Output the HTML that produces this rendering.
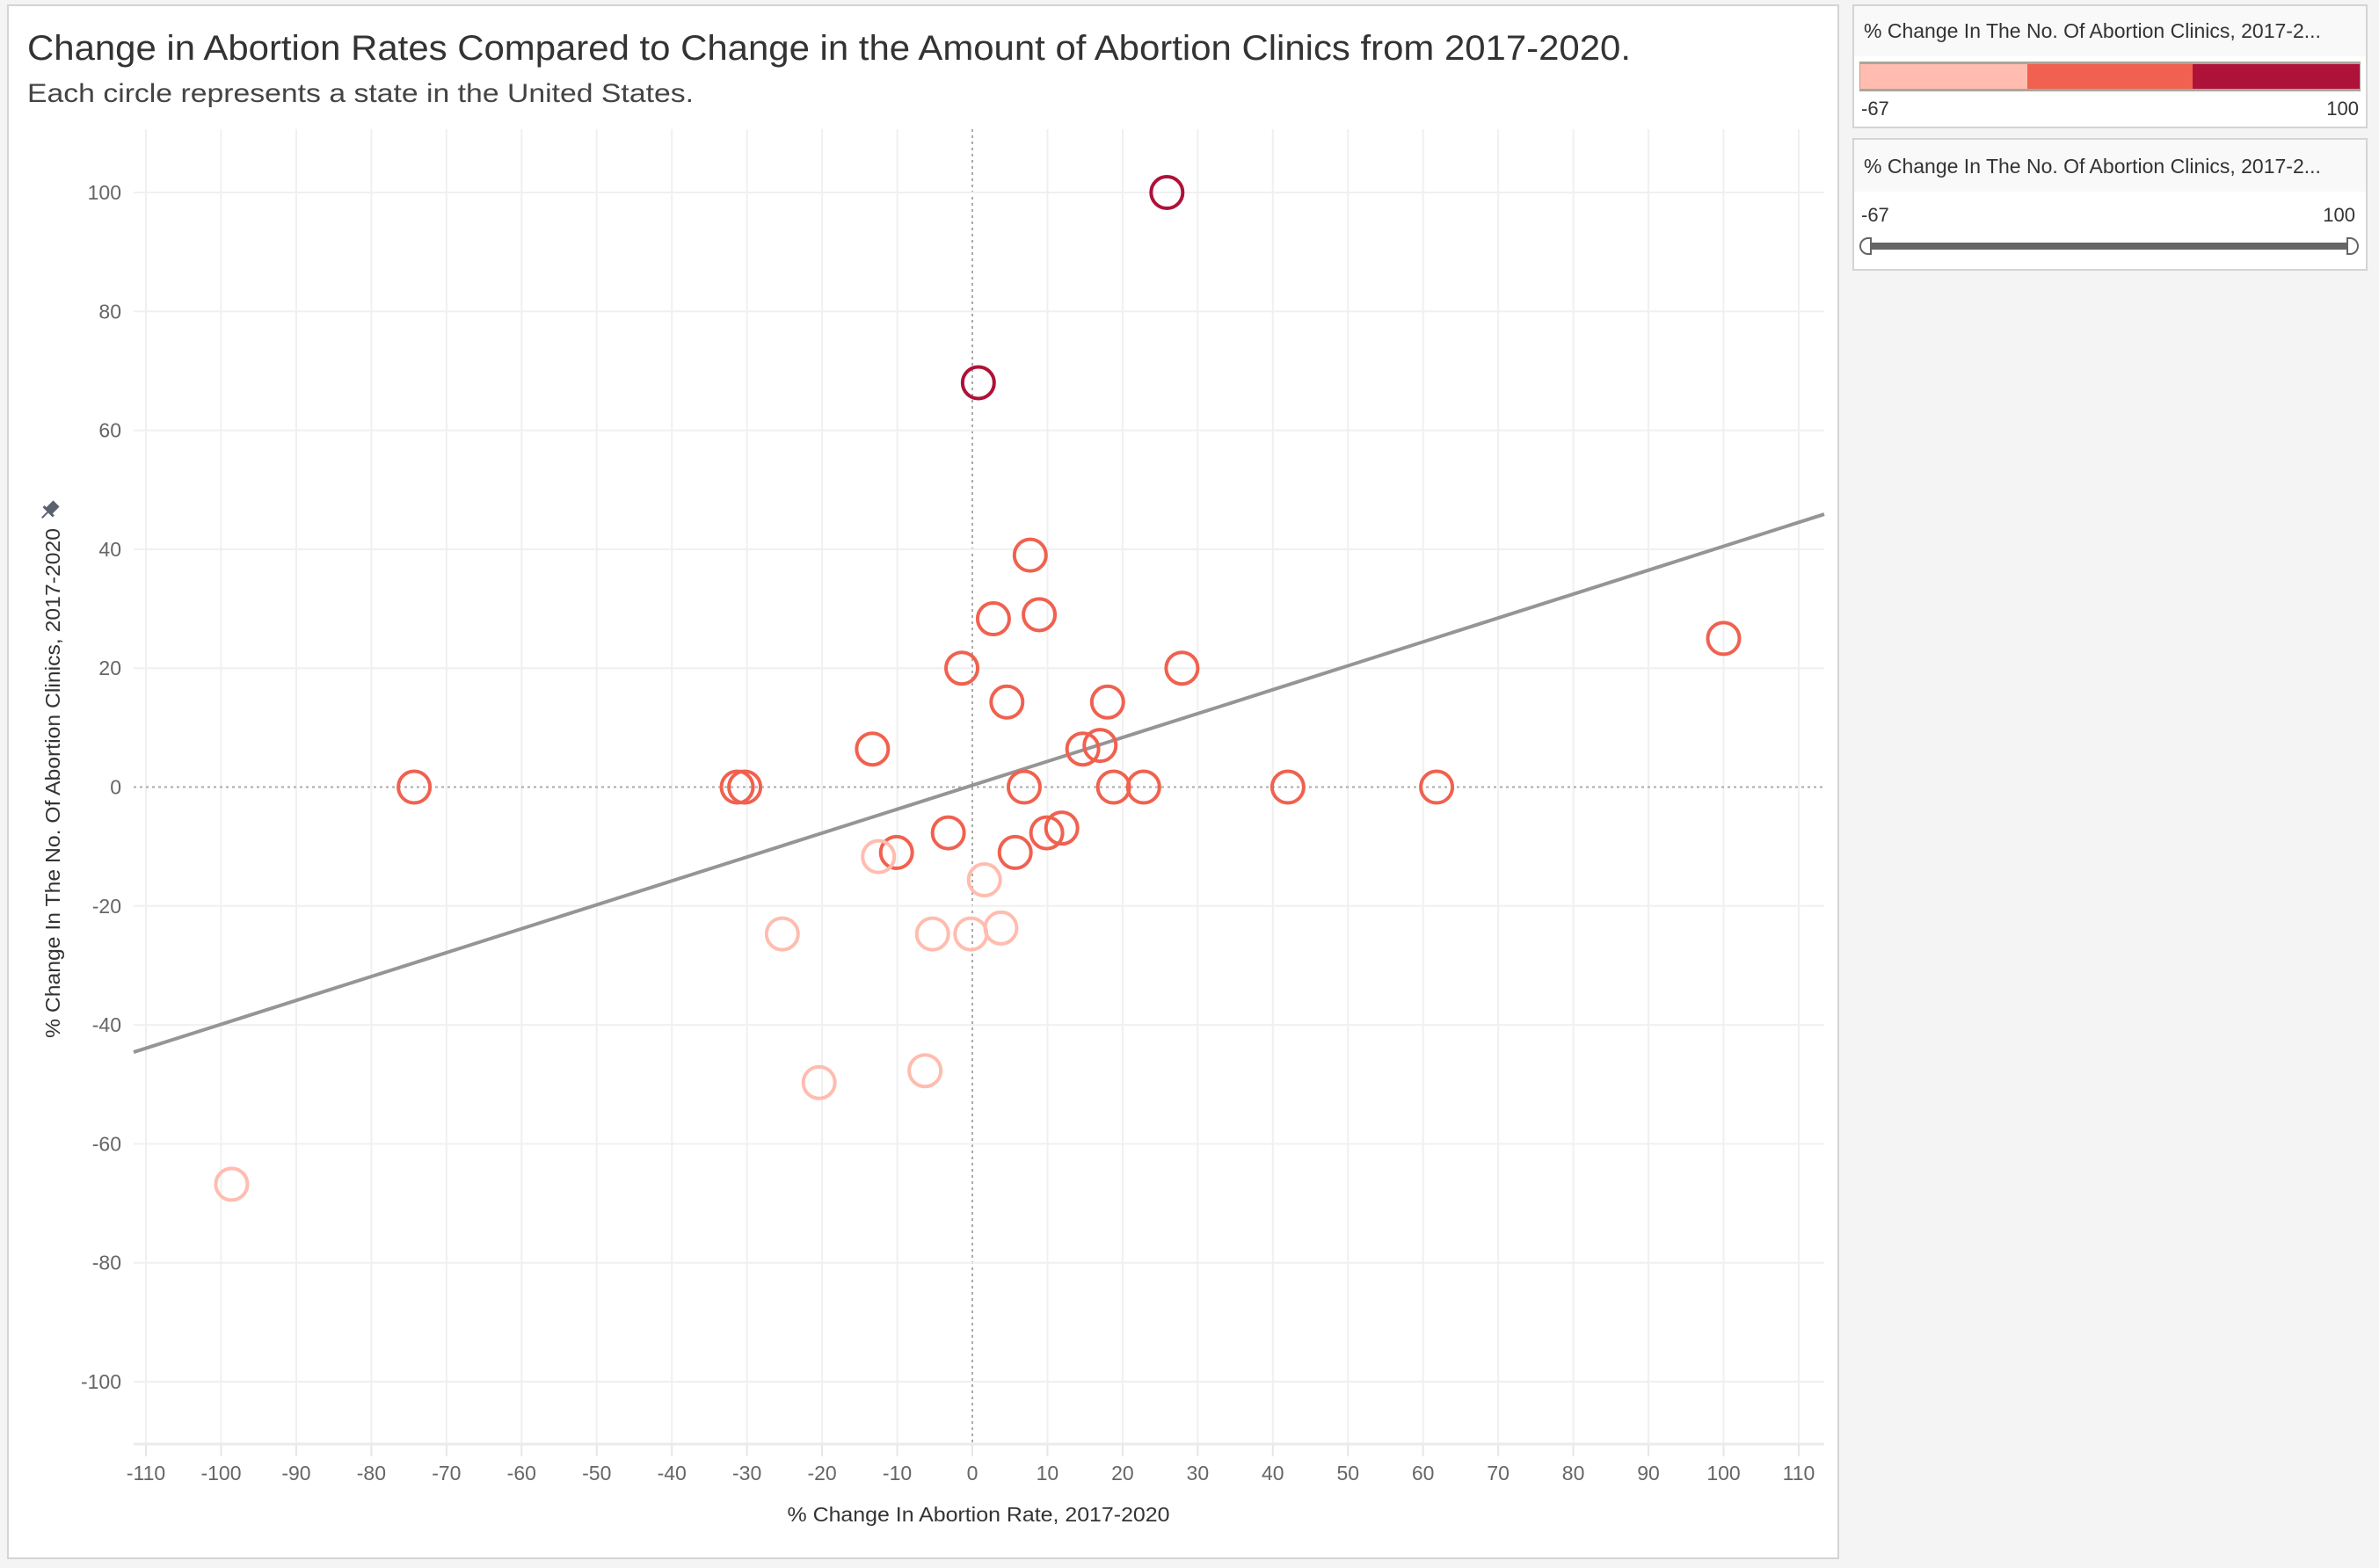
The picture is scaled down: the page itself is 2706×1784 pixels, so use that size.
<!DOCTYPE html>
<html><head><meta charset="utf-8">
<style>
html,body{margin:0;padding:0;background:#f4f4f4;width:2706px;height:1784px;overflow:hidden;font-family:"Liberation Sans",sans-serif;}
svg{display:block}
</style></head>
<body>
<svg id="chart" width="2706" height="1784" xmlns="http://www.w3.org/2000/svg">
  <rect x="9" y="6" width="2082" height="1767" fill="#fff" stroke="#d4d4d4" stroke-width="2"/>
  <text x="31" y="68" font-size="40" fill="#333" textLength="1824" lengthAdjust="spacingAndGlyphs">Change in Abortion Rates Compared to Change in the Amount of Abortion Clinics from 2017-2020.</text>
  <text x="31" y="116" font-size="30" fill="#444" textLength="758" lengthAdjust="spacingAndGlyphs">Each circle represents a state in the United States.</text>
  <g id="grid"></g>
  <g id="axes"></g>
  <g id="trend"></g>
  <g id="points"></g>
  <text x="0" y="0" transform="translate(68,891) rotate(-90)" text-anchor="middle" font-size="23" fill="#333" textLength="580" lengthAdjust="spacingAndGlyphs">% Change In The No. Of Abortion Clinics, 2017-2020</text>
  <g transform="translate(57,580) rotate(45)" fill="#5a6270">
    <rect x="-5" y="-10" width="10" height="12"/>
    <rect x="-8" y="1" width="16" height="3"/>
    <rect x="-1" y="4" width="2" height="9"/>
  </g>
  <text x="1113" y="1731" text-anchor="middle" font-size="23" fill="#333" textLength="435" lengthAdjust="spacingAndGlyphs">% Change In Abortion Rate, 2017-2020</text>

  <g>
    <rect x="2108" y="6" width="584" height="139" fill="#fff" stroke="#d4d4d4" stroke-width="2"/>
    <rect x="2109" y="7" width="582" height="57" fill="#f9f9f9"/>
    <text x="2120" y="43" font-size="23" fill="#333">% Change In The No. Of Abortion Clinics, 2017-2...</text>
    <rect x="2115" y="70" width="570" height="34" fill="#aaa69c"/>
    <rect x="2116" y="73" width="190" height="28" fill="#ffbcaf"/>
    <rect x="2306" y="73" width="188" height="28" fill="#f0614f"/>
    <rect x="2494" y="73" width="190" height="28" fill="#ae1238"/>
    <text x="2117" y="131" font-size="22" fill="#333">-67</text>
    <text x="2683" y="131" text-anchor="end" font-size="22" fill="#333">100</text>
  </g>
  <g>
    <rect x="2108" y="158" width="584" height="149" fill="#fff" stroke="#d4d4d4" stroke-width="2"/>
    <rect x="2109" y="159" width="582" height="59" fill="#f9f9f9"/>
    <text x="2120" y="197" font-size="23" fill="#333">% Change In The No. Of Abortion Clinics, 2017-2...</text>
    <text x="2117" y="252" font-size="22" fill="#333">-67</text>
    <text x="2679" y="252" text-anchor="end" font-size="22" fill="#333">100</text>
    <rect x="2124" y="276" width="550" height="8" fill="#666"/>
    <path d="M2128 271 h-3 a9 9 0 0 0 0 18 h3 z" fill="#fff" stroke="#666" stroke-width="2"/>
    <path d="M2670 271 h3 a9 9 0 0 1 0 18 h-3 z" fill="#fff" stroke="#666" stroke-width="2"/>
  </g>
</svg>
<script>
const xValues = [25.9,0.8,7.7,2.8,8.9,-1.4,27.9,100,4.6,18,-13.3,14.7,17,-74.3,-31.3,-30.3,6.9,18.8,22.8,42,61.8,-3.2,9.9,11.9,-10.1,5.7,-12.5,1.6,-25.3,-5.3,-0.2,3.8,-20.4,-6.3,-98.6];
const yValues = [100,68,39,28.3,29,20,20,25,14.3,14.3,6.4,6.4,7,0,0,0,0,0,0,0,0,-7.7,-7.7,-6.9,-11,-11,-11.7,-15.6,-24.7,-24.7,-24.7,-23.7,-49.7,-47.7,-66.8];
const xTicks = [-110,-100,-90,-80,-70,-60,-50,-40,-30,-20,-10,0,10,20,30,40,50,60,70,80,90,100,110];
const yTicks = [-100,-80,-60,-40,-20,0,20,40,60,80,100];
const trendSlope = 0.402;
const trendIntercept = 0.3;
const colorBreaks = [-11.3, 44.3];

const NS = 'http://www.w3.org/2000/svg';
const X0 = 1106, XS = 8.545, Y0 = 895.5, YS = 6.765;
const PL = 152, PR = 2075, PT = 147, PB = 1643;
const sx = v => X0 + v * XS;
const sy = v => Y0 - v * YS;
const xMin = (PL - X0) / XS, xMax = (PR - X0) / XS;
function mk(tag, attrs, parent) {
  const e = document.createElementNS(NS, tag);
  for (const k in attrs) e.setAttribute(k, attrs[k]);
  parent.appendChild(e);
  return e;
}
const grid = document.getElementById('grid');
const axes = document.getElementById('axes');
xTicks.forEach(t => {
  const l = mk('line', {x1: sx(t), x2: sx(t), y1: PT, y2: PB, stroke: t === 0 ? '#aaa' : '#f0f0f0', 'stroke-width': 2, 'stroke-dasharray': t === 0 ? '3,4' : 'none'}, grid);
  
  
  const tk = mk('line', {x1: sx(t), x2: sx(t), y1: PB, y2: PB + 14, stroke: '#e6e6e6', 'stroke-width': 2}, axes);
  
  
  const tx = mk('text', {x: sx(t), y: 1684, 'text-anchor': 'middle', 'font-size': 23, fill: '#666'}, axes);
  tx.textContent = t;
  
  
});
yTicks.forEach(t => {
  const l = mk('line', {x1: PL, x2: PR, y1: sy(t), y2: sy(t), stroke: t === 0 ? '#aaa' : '#f0f0f0', 'stroke-width': 2, 'stroke-dasharray': t === 0 ? '3,4' : 'none'}, grid);
  
  
  const tx = mk('text', {x: 138, y: sy(t) + 8, 'text-anchor': 'end', 'font-size': 23, fill: '#666'}, axes);
  tx.textContent = t;
  
  
});
const xl = mk('line', {x1: PL, x2: PR, y1: PB, y2: PB, stroke: '#ebebeb', 'stroke-width': 3}, axes);



const tl = mk('line', {x1: PL, y1: sy(trendSlope * xMin + trendIntercept), x2: PR, y2: sy(trendSlope * xMax + trendIntercept), stroke: '#959595', 'stroke-width': 4}, document.getElementById('trend'));



const pts = document.getElementById('points');
xValues.forEach((xv, i) => {
  const yv = yValues[i];
  const col = yv < colorBreaks[0] ? '#ffbcaf' : (yv < colorBreaks[1] ? '#f0614f' : '#ae1238');
  const c = mk('circle', {cx: sx(xv), cy: sy(yv), r: 18, fill: 'none', stroke: col, 'stroke-width': 4}, pts);
  
  
});
</script>
</body></html>
